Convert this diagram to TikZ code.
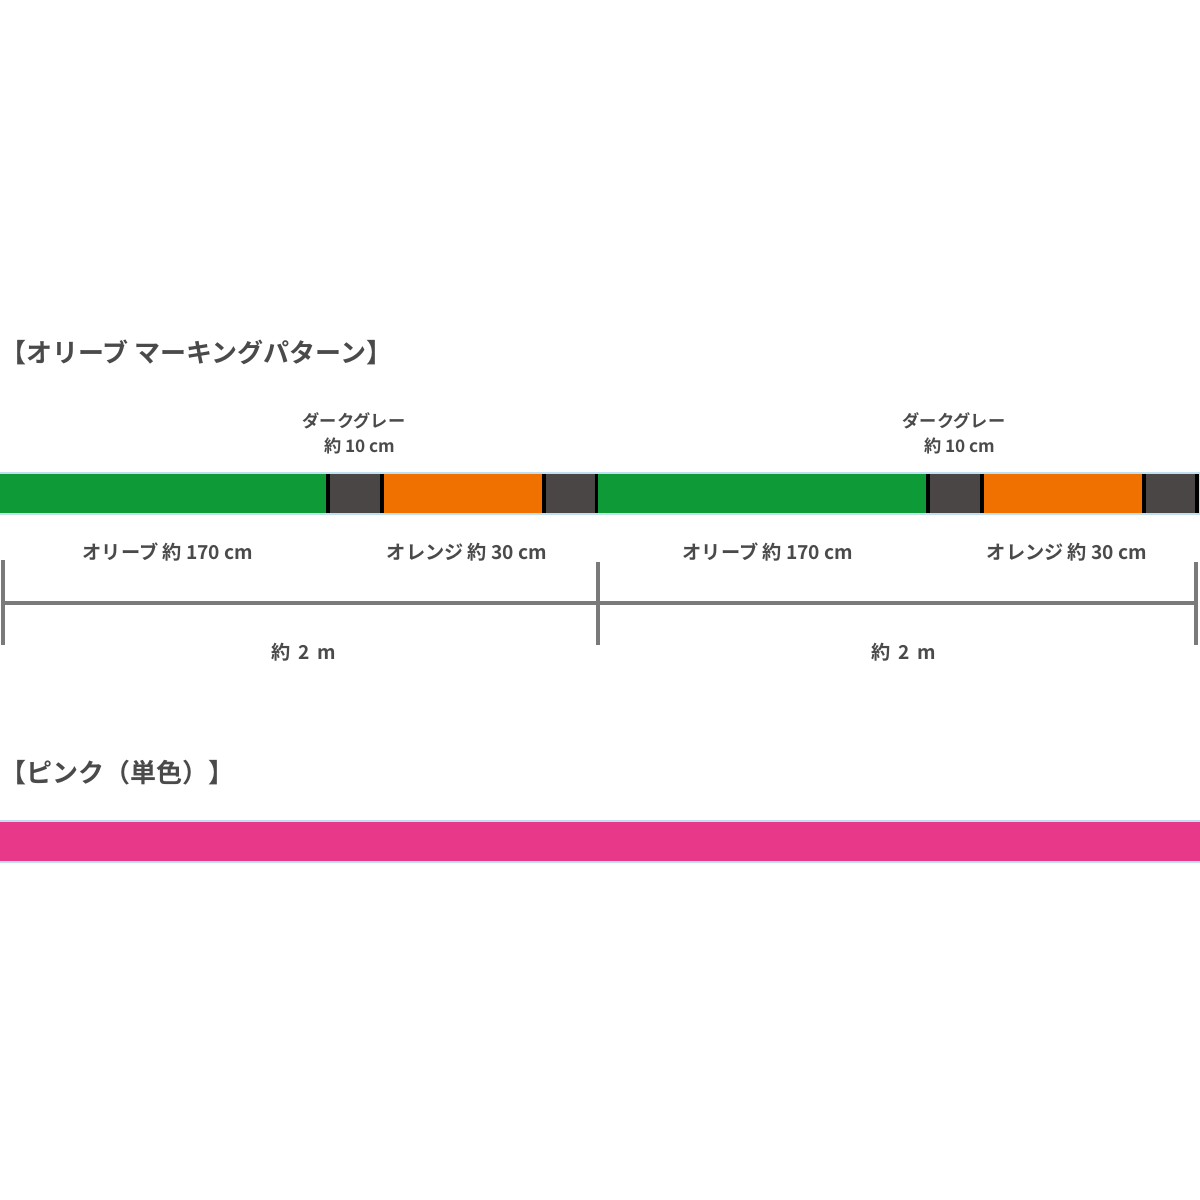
\documentclass[tikz,border=0pt]{standalone}
\usepackage{fontspec}
\newfontfamily\jp{Noto Sans CJK JP Bold}
\definecolor{olive}{HTML}{0E9A37}
\definecolor{dgray}{HTML}{4A4646}
\definecolor{orng}{HTML}{F07000}
\definecolor{pnk}{HTML}{E8388A}
\definecolor{txt}{HTML}{4A4A4A}
\definecolor{rule}{HTML}{7A7A7A}
\definecolor{edge}{HTML}{BFE0F0}
\begin{document}
\begin{tikzpicture}[x=0.5pt,y=-0.5pt,
  title/.style={font=\jp\fontsize{13}{14}\selectfont, text=txt, anchor=west, inner sep=0pt},
  lbl/.style={font=\jp\fontsize{8.6}{9}\selectfont, text=txt, inner sep=0pt, align=center},
  lblb/.style={font=\jp\fontsize{9.6}{10}\selectfont, text=txt, inner sep=0pt, align=center},
  tick/.style={draw=rule, line width=1.6pt},
  dim/.style={draw=rule, line width=1.8pt}]
\useasboundingbox[fill=white] (0,0) rectangle (1200,1200);
% title
\node[title] (t1) at (0,352) {【オリーブ マーキングパターン】};
% bar
\fill[edge] (0,472) rectangle (1200,515);
\foreach \o/\n in {0/a,600/b}{
  \fill[olive] (\o-2,474) rectangle (\o+327,513);
  \fill[black] (\o+326,474) rectangle (\o+384,513);
  \fill[dgray] (\o+330,474) rectangle (\o+380,513);
  \fill[orng] (\o+384,474) rectangle (\o+542,513);
  \fill[black] (\o+542,474) rectangle (\o+599,513);
  \fill[dgray] (\o+546,474) rectangle (\o+595,513);
  \node[lbl] (dg\n) at (\o+354,421) {ダークグレー};
  \node[lbl] (dl\n) at (\o+360,446) {約 10 cm};
  \node[lblb] (ol\n) at (\o+168,552) {オリーブ 約 170 cm};
  \node[lblb] (or\n) at (\o+467,552) {オレンジ 約 30 cm};
  \node[lblb] (m\n) at (\o+304,652) {約\, 2\, m};
}
% dimension line
\coordinate (p0) at (3,603);
\coordinate (p1) at (598,603);
\coordinate (p2) at (1196,603);
\draw[dim] (p0) -- (p1) -- (p2);
\draw[tick] (3,560) -- (3,645);
\draw[tick] (598,562) -- (598,645);
\draw[tick] (1196,562) -- (1196,645);
% pink
\node[title] (t2) at (0,773) {【ピンク（単色）】};
\fill[edge] (0,820) rectangle (1200,863);
\fill[pnk] (0,822) rectangle (1200,861);
\end{tikzpicture}
\end{document}
